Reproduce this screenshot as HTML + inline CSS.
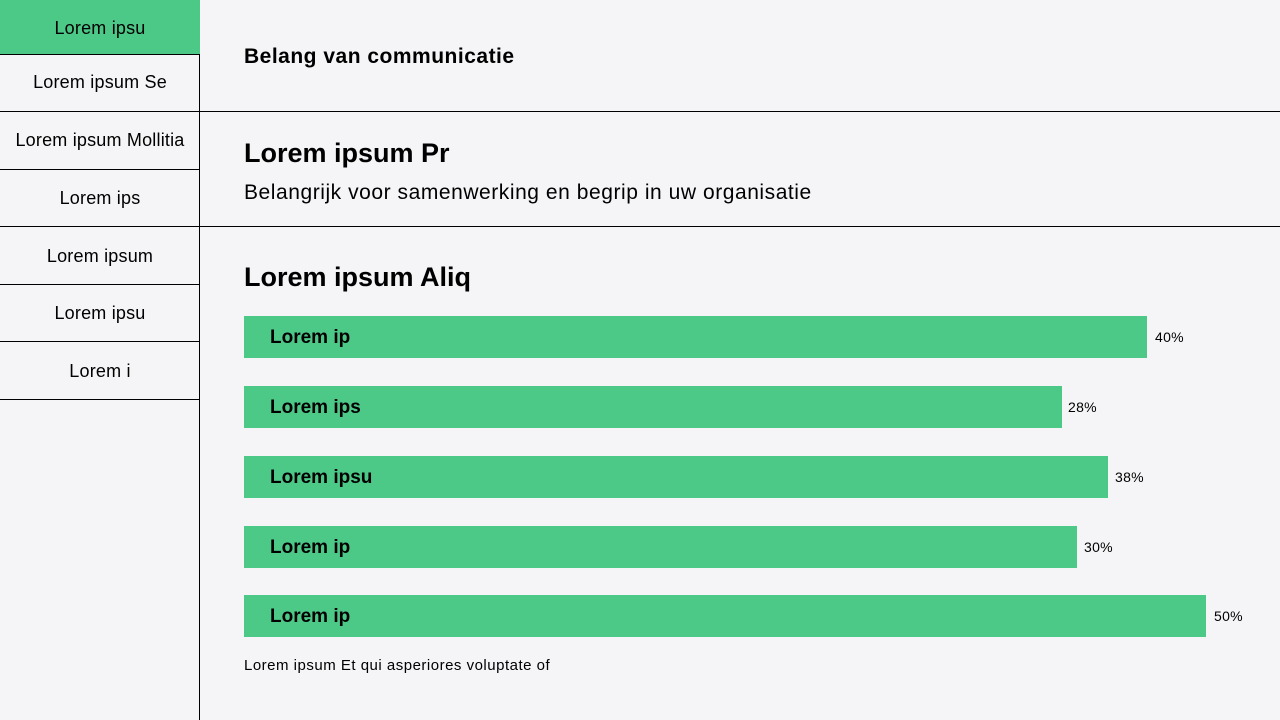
<!DOCTYPE html>
<html><head><style>
*{margin:0;padding:0;box-sizing:border-box}
body{width:1280px;height:720px;background:#f5f4f7;font-family:"Liberation Sans",sans-serif;color:#000;position:relative;overflow:hidden}
.a{position:absolute}
.side{left:0;top:0;width:200px;height:720px;border-right:1px solid #000}
.it{position:absolute;left:0;width:200px;text-align:center;font-size:18px;border-bottom:1px solid #000;letter-spacing:0.2px}
.hl{left:200px;width:1080px;height:1px;background:#000}
.bar{position:absolute;left:244px;height:42px;background:#4cc887;font-weight:bold;font-size:19px;line-height:44px;padding-left:26px}
.pct{position:absolute;font-size:14px;line-height:42px;letter-spacing:0.3px}
</style></head><body>
<div class="a side">
<div class="it" style="top:0;height:55px;line-height:56px;background:#4cc887">Lorem ipsu</div>
<div class="it" style="top:55px;height:57px;line-height:54px">Lorem ipsum Se</div>
<div class="it" style="top:112px;height:58px;line-height:57px">Lorem ipsum Mollitia</div>
<div class="it" style="top:170px;height:57px;line-height:56px">Lorem ips</div>
<div class="it" style="top:227px;height:58px;line-height:58px">Lorem ipsum</div>
<div class="it" style="top:285px;height:57px;line-height:56px">Lorem ipsu</div>
<div class="it" style="top:342px;height:58px;line-height:58px">Lorem i</div>
</div>
<div class="a" style="left:244px;top:45px;font-size:21px;font-weight:bold;letter-spacing:0.5px">Belang van communicatie</div>
<div class="a hl" style="top:111px"></div>
<div class="a" style="left:244px;top:138px;font-size:27px;font-weight:bold">Lorem ipsum Pr</div>
<div class="a" style="left:244px;top:181px;font-size:21px;letter-spacing:0.55px">Belangrijk voor samenwerking en begrip in uw organisatie</div>
<div class="a hl" style="top:226px"></div>
<div class="a" style="left:244px;top:262px;font-size:27px;font-weight:bold">Lorem ipsum Aliq</div>
<div class="bar" style="top:316px;width:903px">Lorem ip</div><div class="pct" style="top:316px;left:1155px">40%</div>
<div class="bar" style="top:386px;width:818px">Lorem ips</div><div class="pct" style="top:386px;left:1068px">28%</div>
<div class="bar" style="top:456px;width:864px">Lorem ipsu</div><div class="pct" style="top:456px;left:1115px">38%</div>
<div class="bar" style="top:526px;width:833px">Lorem ip</div><div class="pct" style="top:526px;left:1084px">30%</div>
<div class="bar" style="top:595px;width:962px">Lorem ip</div><div class="pct" style="top:595px;left:1214px">50%</div>
<div class="a" style="left:244px;top:657px;font-size:15px;letter-spacing:0.5px">Lorem ipsum Et qui asperiores voluptate of</div>
</body></html>
